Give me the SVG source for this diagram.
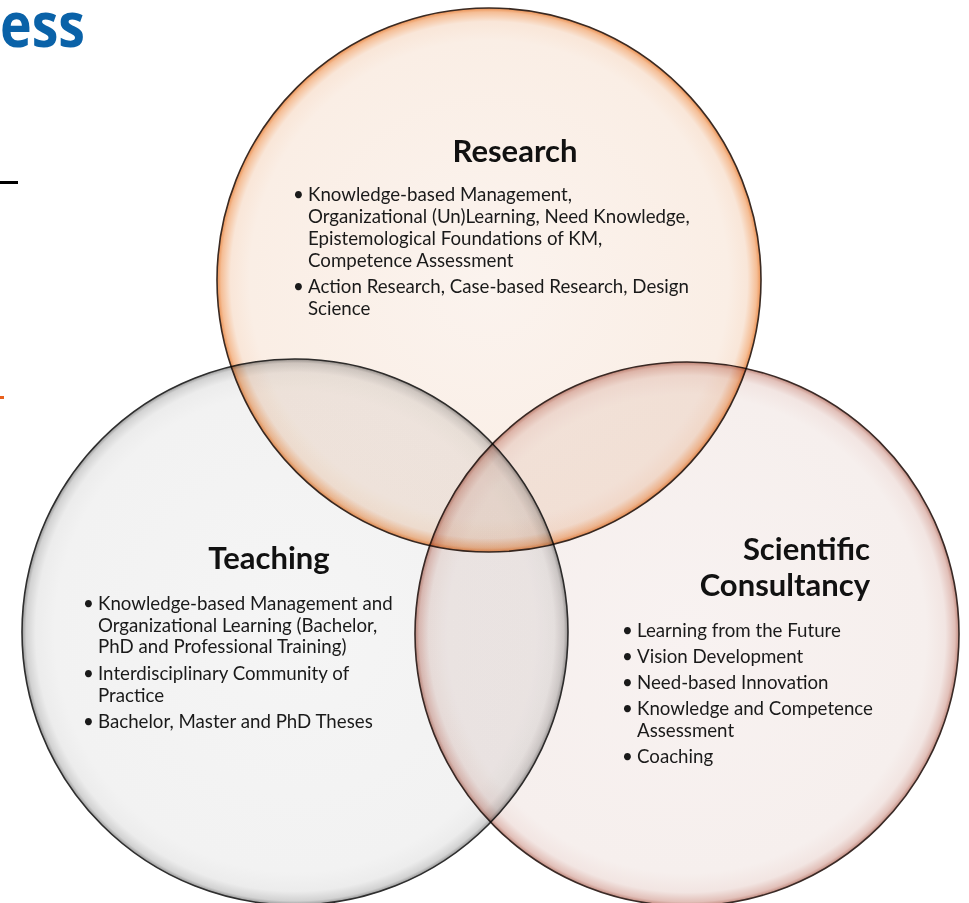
<svg xmlns="http://www.w3.org/2000/svg" width="969" height="903" viewBox="0 0 969 903">
<style>
.circ{mix-blend-mode:multiply;stroke-width:1.6}
.title{font-family:Lato,"Liberation Sans",sans-serif;font-weight:bold;font-size:31px;fill:#111}
.body{font-family:Lato,"Liberation Sans",sans-serif;font-size:18.7px;fill:#1a1a1a}
</style>
<defs>
<radialGradient id="gR" cx="50%" cy="50%" r="50%">
<stop offset="0" stop-color="#FBF3EE"/>
<stop offset="0.88" stop-color="#FAEEE5"/>
<stop offset="0.95" stop-color="#F9E6D8"/>
<stop offset="0.985" stop-color="#F5BE96"/>
<stop offset="0.995" stop-color="#EE9F68"/>
<stop offset="1" stop-color="#E48A52"/>
</radialGradient>
<radialGradient id="gT" cx="50%" cy="50%" r="50%">
<stop offset="0" stop-color="#F5F5F5"/>
<stop offset="0.88" stop-color="#F2F2F2"/>
<stop offset="0.95" stop-color="#ECECEC"/>
<stop offset="0.985" stop-color="#D2D2D2"/>
<stop offset="0.995" stop-color="#ABABAB"/>
<stop offset="1" stop-color="#8E8E8E"/>
</radialGradient>
<radialGradient id="gC" cx="50%" cy="50%" r="50%">
<stop offset="0" stop-color="#F8F2F1"/>
<stop offset="0.88" stop-color="#F6EFED"/>
<stop offset="0.95" stop-color="#F2E5E2"/>
<stop offset="0.985" stop-color="#E2C0B9"/>
<stop offset="0.995" stop-color="#CC9C92"/>
<stop offset="1" stop-color="#B8847A"/>
</radialGradient>
</defs>
<rect width="969" height="903" fill="#fff"/>
<text x="0" y="47" font-family="Open Sans, Liberation Sans, sans-serif" font-weight="bold" font-size="62" fill="#0A62A8" textLength="85" lengthAdjust="spacingAndGlyphs">ess</text>
<rect x="0" y="181" width="18" height="3" fill="#000"/>
<rect x="0" y="396" width="4" height="3" fill="#E8601C"/>
<g id="connectors"></g>
<g id="research">
<circle class="circ" cx="489" cy="280" r="272" fill="url(#gR)" stroke="#3A2A22"/>
<text class="title" x="515" y="162" text-anchor="middle">Research</text>
<text class="body"><tspan x="293" y="201">•</tspan><tspan x="308" y="201">Knowledge-based Management,</tspan><tspan x="308" y="223">Organizational (Un)Learning, Need Knowledge,</tspan><tspan x="308" y="245">Epistemological Foundations of KM,</tspan><tspan x="308" y="267">Competence Assessment</tspan><tspan x="293" y="293">•</tspan><tspan x="308" y="293">Action Research, Case-based Research, Design</tspan><tspan x="308" y="315">Science</tspan></text>
</g>
<g id="teaching">
<circle class="circ" cx="295" cy="632" r="273" fill="url(#gT)" stroke="#2E2E2E"/>
<text class="title" x="269" y="569" text-anchor="middle">Teaching</text>
<text class="body"><tspan x="83" y="610">•</tspan><tspan x="98" y="610">Knowledge-based Management and</tspan><tspan x="98" y="632">Organizational Learning (Bachelor,</tspan><tspan x="98" y="653">PhD and Professional Training)</tspan><tspan x="83" y="680">•</tspan><tspan x="98" y="680">Interdisciplinary Community of</tspan><tspan x="98" y="702">Practice</tspan><tspan x="83" y="728">•</tspan><tspan x="98" y="728">Bachelor, Master and PhD Theses</tspan></text>
</g>
<g id="consultancy">
<circle class="circ" cx="687" cy="634" r="272" fill="url(#gC)" stroke="#3A2A26"/>
<text class="title" text-anchor="end"><tspan x="870" y="560">Scientific</tspan><tspan x="870" y="596">Consultancy</tspan></text>
<text class="body"><tspan x="622" y="637">•</tspan><tspan x="637" y="637">Learning from the Future</tspan><tspan x="622" y="663">•</tspan><tspan x="637" y="663">Vision Development</tspan><tspan x="622" y="689">•</tspan><tspan x="637" y="689">Need-based Innovation</tspan><tspan x="622" y="715">•</tspan><tspan x="637" y="715">Knowledge and Competence</tspan><tspan x="637" y="737">Assessment</tspan><tspan x="622" y="763">•</tspan><tspan x="637" y="763">Coaching</tspan></text>
</g>
</svg>
